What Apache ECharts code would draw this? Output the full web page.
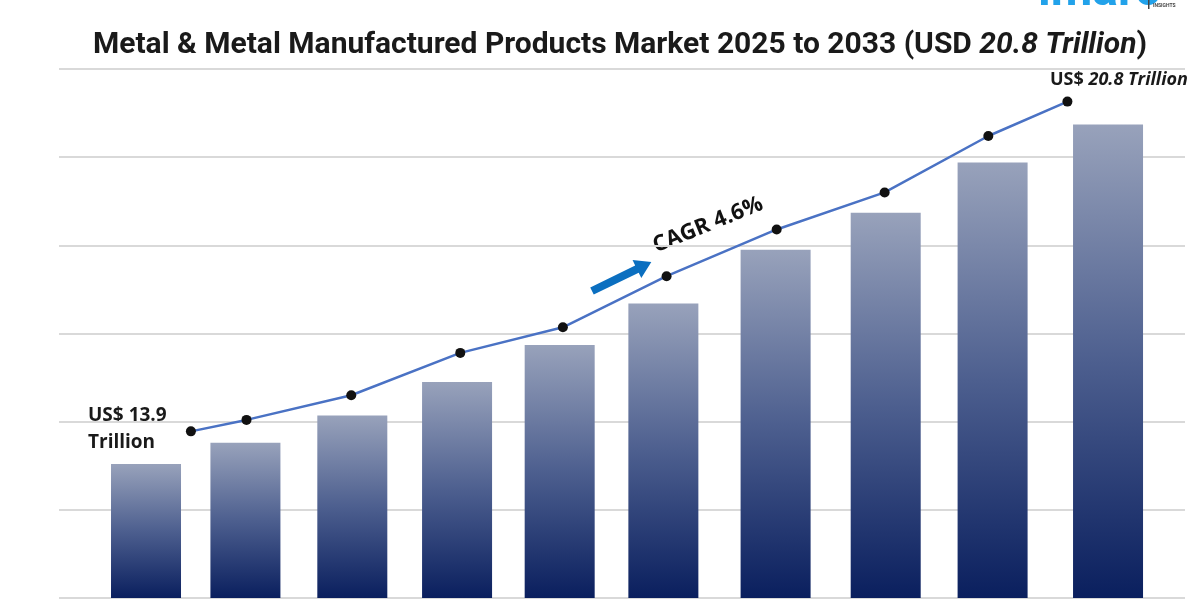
<!DOCTYPE html>
<html>
<head>
<meta charset="utf-8">
<script src="https://cdn.jsdelivr.net/npm/echarts@6/dist/echarts.min.js"></script>
<style>
  html, body { margin: 0; padding: 0; background: #ffffff; }
  #chart { width: 1200px; height: 600px; }
</style>
</head>
<body>
<div id="chart"></div>
<script>
// years shown by the bars (no axis labels drawn in the original)
const years = ['2025', '2026', '2027', '2028', '2029', '2030', '2031', '2032', '2033', '2034'];
// bar positions (bar index units) and heights (gridline units)
const barX = [0, 0.93, 1.93, 2.91, 3.87, 4.84, 5.89, 6.92, 7.92, 9.0];
const barValues = [1.52, 1.76, 2.07, 2.45, 2.87, 3.34, 3.95, 4.37, 4.94, 5.37];
// trend line: x position (bar index units) and height
const lineX = [0.42, 0.94, 1.92, 2.94, 3.90, 4.87, 5.90, 6.91, 7.88, 8.62];
const lineValues = [1.89, 2.02, 2.30, 2.78, 3.07, 3.65, 4.18, 4.60, 5.24, 5.63];

const FONT = 'Roboto, "Open Sans", sans-serif';
const OPEN = '"Open Sans", Roboto, sans-serif';

const chart = echarts.init(document.getElementById('chart'));

const option = {
  backgroundColor: '#ffffff',
  animation: false,
  title: {
    text: '{b|Metal & Metal Manufactured Products Market 2025 to 2033 (USD }{i|20.8 Trillion}{b|)}',
    left: 88,
    top: 25,
    textStyle: {
      rich: {
        b: { fontSize: 30, fontWeight: 'bold', color: '#1a1a1a', fontFamily: FONT },
        i: { fontSize: 30, fontWeight: 'bold', fontStyle: 'italic', color: '#1a1a1a', fontFamily: FONT }
      }
    }
  },
  grid: { left: 59, right: 15, top: 69, bottom: 2 },
  xAxis: {
    type: 'value',
    min: -0.814,
    max: 9.72,
    show: false
  },
  yAxis: {
    type: 'value',
    min: 0,
    max: 6,
    interval: 1,
    axisLabel: { show: false },
    axisTick: { show: false },
    axisLine: { show: false },
    splitLine: { lineStyle: { color: '#d9d9d9', width: 2 } }
  },
  series: [
    {
      type: 'bar',
      barWidth: 70,
      data: barX.map((x, i) => [x, barValues[i]]),
      itemStyle: {
        color: new echarts.graphic.LinearGradient(0, 0, 0, 1, [
          { offset: 0, color: '#98a2bb' },
          { offset: 0.5, color: '#4d5f8f' },
          { offset: 1, color: '#0a1f5e' }
        ])
      },
      z: 2
    },
    {
      type: 'line',
      data: lineX.map((x, i) => [x, lineValues[i]]),
      lineStyle: { color: '#4a72c4', width: 2.5 },
      symbol: 'circle',
      symbolSize: 10,
      itemStyle: { color: '#111111' },
      z: 5
    }
  ],
  graphic: [
    // imarc logo, cut off at the top edge
    {
      type: 'text', x: 1038, y: -31,
      style: { text: 'imarc', fontSize: 48, fontWeight: 'bold', fill: '#22a2ea', fontFamily: FONT }
    },
    {
      type: 'rect', shape: { x: 1148, y: 0, width: 1.5, height: 9 },
      style: { fill: '#444' }
    },
    {
      type: 'text', x: 1153, y: 3,
      style: { text: 'INSIGHTS', fontSize: 5, fontWeight: 'bold', fill: '#444', fontFamily: FONT }
    },
    // end value label
    {
      type: 'text', x: 1050, y: 71,
      style: {
        text: '{b|US$ }{i|20.8 Trillion}',
        rich: {
          b: { fontSize: 18, fontWeight: 'bold', fill: '#1a1a1a', fontFamily: OPEN },
          i: { fontSize: 18, fontWeight: 'bold', fontStyle: 'italic', fill: '#1a1a1a', fontFamily: OPEN }
        }
      }
    },
    // start value label
    {
      type: 'text', x: 88, y: 402,
      style: {
        text: 'US$ 13.9\nTrillion',
        fontSize: 19, fontWeight: 'bold', fill: '#1a1a1a', lineHeight: 27,
        fontFamily: OPEN
      }
    },
    // CAGR arrow
    {
      type: 'polygon',
      shape: {
        points: [[0, -4], [50, -4], [50, -10], [66, 0], [50, 10], [50, 4], [0, 4]]
      },
      x: 592, y: 291, rotation: 26 * Math.PI / 180,
      style: { fill: '#0b6fc0' }
    },
    {
      type: 'text',
      x: 658, y: 257, rotation: 22 * Math.PI / 180,
      style: {
        text: 'CAGR 4.6%', fontSize: 22, fontWeight: 'bold', fill: '#111111',
        textVerticalAlign: 'bottom', fontFamily: OPEN
      }
    }
  ]
};

chart.setOption(option);
</script>
</body>
</html>
